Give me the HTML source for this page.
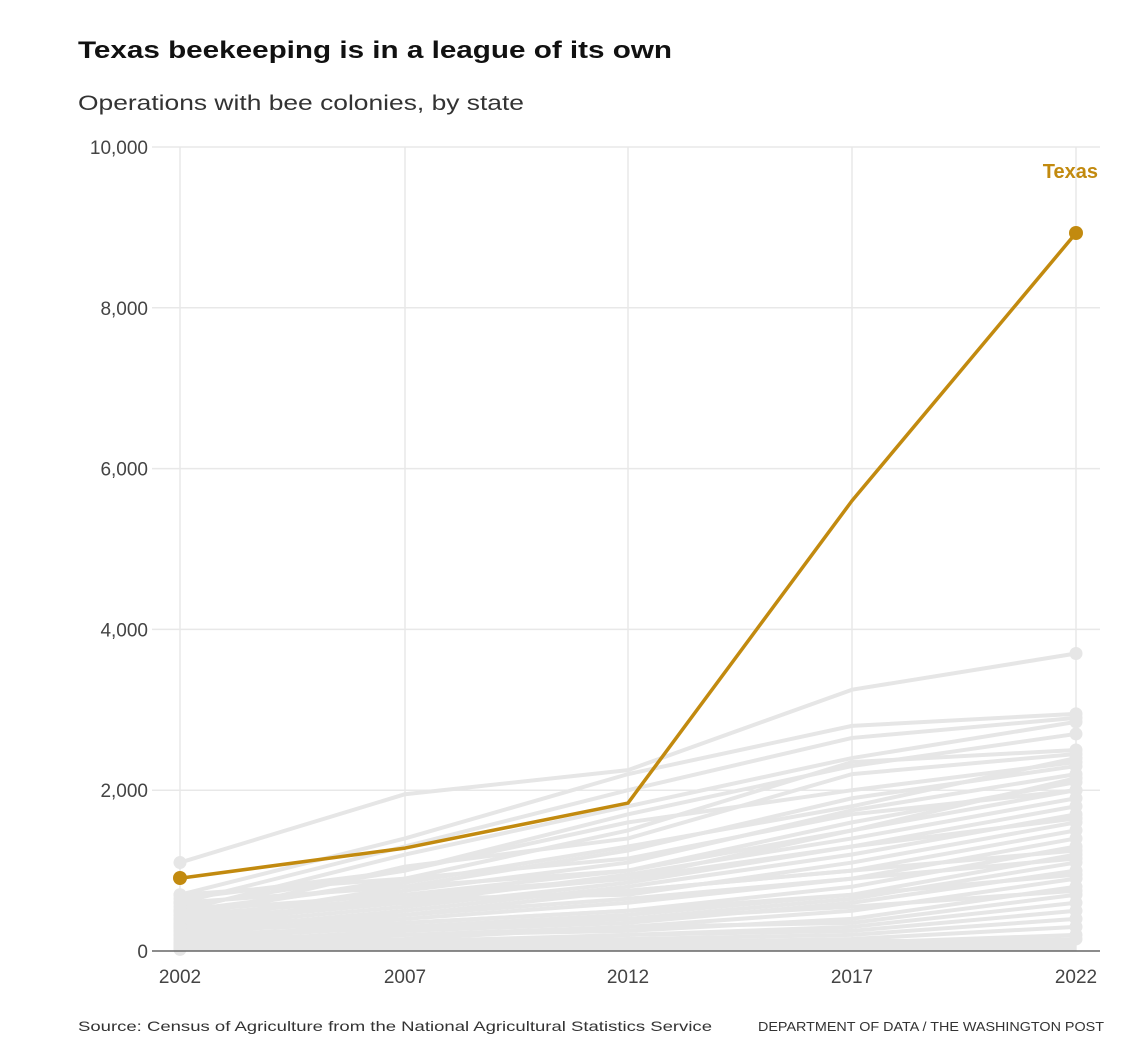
<!DOCTYPE html>
<html><head><meta charset="utf-8"><style>
html,body{margin:0;padding:0;background:#fff;}
svg{display:block;font-family:"Liberation Sans",sans-serif;}
</style></head><body>
<svg id="s" width="1142" height="1057" viewBox="0 0 1142 1057" xmlns="http://www.w3.org/2000/svg">
<rect width="1142" height="1057" fill="#fff"/>
<text x="78" y="58" font-size="24" font-weight="bold" fill="#111" textLength="594" lengthAdjust="spacingAndGlyphs">Texas beekeeping is in a league of its own</text>
<text x="78" y="110" font-size="21" fill="#333" textLength="446" lengthAdjust="spacingAndGlyphs">Operations with bee colonies, by state</text>
<g id="grid" stroke="#e8e8e8" stroke-width="1.5"></g>
<g id="labels" font-size="19" fill="#444"></g>
<g id="gray" fill="none" stroke="#e6e6e6" stroke-width="4" stroke-linejoin="round"></g>
<g id="dots" fill="#e6e6e6"></g>
<line x1="152" y1="951" x2="1100" y2="951" stroke="#666" stroke-width="1.5"/>
<polyline id="tx" fill="none" stroke="#c28a0f" stroke-width="3.5" stroke-linejoin="round"/>
<circle cx="180" cy="878" r="7" fill="#c28a0f"/>
<circle cx="1076" cy="233" r="7" fill="#c28a0f"/>
<text x="1098" y="178" font-size="20" font-weight="bold" fill="#c28a0f" text-anchor="end">Texas</text>
<text x="78" y="1031" font-size="14" fill="#333" textLength="634" lengthAdjust="spacingAndGlyphs">Source: Census of Agriculture from the National Agricultural Statistics Service</text>
<text x="1104" y="1031" font-size="13" fill="#333" text-anchor="end" textLength="346" lengthAdjust="spacingAndGlyphs">DEPARTMENT OF DATA / THE WASHINGTON POST</text>
</svg>
<script>
var NS="http://www.w3.org/2000/svg";
var X=[180,405,628,852,1076];
function Y(v){return 951-v*0.0804;}
function el(p,t,a,txt){var e=document.createElementNS(NS,t);for(var k in a)e.setAttribute(k,a[k]);if(txt)e.textContent=txt;document.getElementById(p).appendChild(e);}
var yl=["0","2,000","4,000","6,000","8,000","10,000"];
for(var i=0;i<6;i++){var y=Y(i*2000);if(i>0)el("grid","line",{x1:152,x2:1100,y1:y,y2:y});
el("labels","text",{x:148,y:y+7,"text-anchor":"end"},yl[i]);}
var yrs=["2002","2007","2012","2017","2022"];
for(var j=0;j<5;j++){el("grid","line",{x1:X[j],x2:X[j],y1:147,y2:951});
el("labels","text",{x:X[j],y:983,"text-anchor":"middle"},yrs[j]);}
var D=[[1100,1950,2250,3250,3700],[700,1400,2200,2800,2950],[600,1300,2000,2650,2900],[500,1200,1800,2400,2850],[550,1000,1700,2300,2700],[450,900,1500,2350,2500],[400,1050,1400,2200,2450],[500,850,1300,1800,2400],[350,800,1250,1900,2300],[400,750,1100,1750,2200],[300,700,1000,1600,2100],[450,650,900,1500,2000],[350,600,950,1400,1900],[300,550,850,1300,1800],[250,500,800,1200,1700],[300,650,700,1100,1600],[200,450,750,1000,1500],[250,400,600,900,1400],[150,350,500,800,1300],[200,300,450,700,1200],[150,300,400,650,1100],[100,250,350,600,1000],[150,200,300,500,900],[100,200,250,400,800],[100,150,300,350,700],[50,100,200,300,600],[80,120,200,250,500],[60,100,150,200,400],[50,80,100,150,300],[30,50,80,100,200],[20,40,60,80,150],[600,800,1000,1500,2150],[500,700,900,1300,1650],[400,600,750,1000,1250],[300,450,650,900,1150],[250,350,500,700,950],[200,280,400,550,750],[700,900,1150,1700,2000],[650,1000,1600,2000,2350]];
D.forEach(function(d){var p=d.map(function(v,i){return X[i]+","+Y(v);}).join(" ");
el("gray","polyline",{points:p});el("dots","circle",{cx:X[0],cy:Y(d[0]),r:6.5});el("dots","circle",{cx:X[4],cy:Y(d[4]),r:6.5});});
el("gray","rect",{x:180,y:Y(150),width:896,height:Y(0)-Y(150),fill:"#e6e6e6",stroke:"none"});
var T=[905,1280,1840,5600,8930];
document.getElementById("tx").setAttribute("points",T.map(function(v,i){return X[i]+","+Y(v);}).join(" "));
</script>
</body></html>
